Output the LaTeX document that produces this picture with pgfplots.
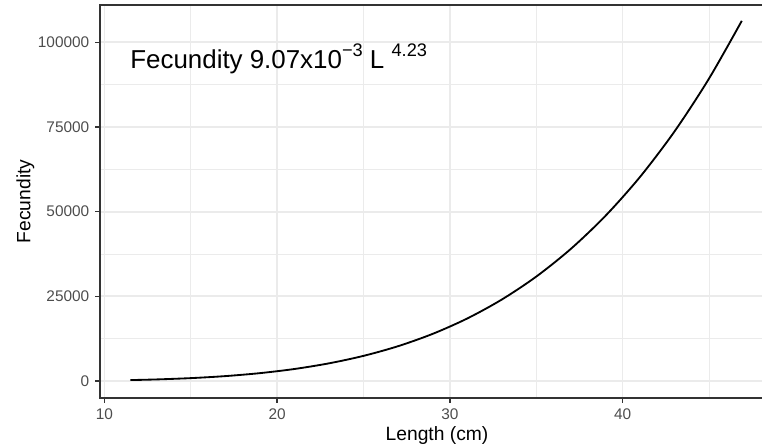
\documentclass[border=0pt]{standalone}
\usepackage{fontspec}
\setmainfont{Liberation Sans}
\usepackage{pgfplots}
\pgfplotsset{compat=1.18}
\definecolor{gray20}{HTML}{333333}
\definecolor{gray30}{HTML}{4D4D4D}
\definecolor{grid92}{HTML}{EBEBEB}
\begin{document}
\begin{tikzpicture}
\begin{axis}[
  scale only axis,
  width=378.1pt, height=224.4pt,
  xmin=9.757, xmax=48.07,
  ymin=-4931, ymax=111012,
  axis line style={draw=none},
  xtick={10,20,30,40},
  xticklabels={10,20,30,40},
  ytick={0,25000,50000,75000,100000},
  yticklabels={0,25000,50000,75000,100000},
  minor xtick={15,25,35,45},
  minor ytick={12500,37500,62500,87500},
  tick align=outside,
  xtick pos=bottom, ytick pos=left,
  major tick length=2.75pt,
  minor tick length=0pt,
  major tick style={gray20, line width=0.9pt},
  minor tick style={draw=none},
  grid=both,
  major grid style={grid92, line width=1.0pt},
  minor grid style={grid92, line width=0.5pt},
  /pgf/number format/assume math mode=true,
  tick label style={font=\fontsize{8.8}{10}\selectfont, text=gray30},
  clip=false,
]
\addplot[black, line width=1.05pt, smooth] coordinates {
(11.5,278.2) (13,467.3) (15,856.0) (17,1453.5) (19,2326.7) (21,3552.9)
(23,5220.5) (25,7428.4) (27,10286.7) (29,13917.2) (31,18452.4) (33,24039)
(35,30833) (37,39003) (39,48731) (41,60211) (43,73651) (45,89268) (46.9,106334)
};
\end{axis}
\draw[gray20, line width=0.9pt] (current axis.south east) -- (current axis.south west) -- (current axis.north west) -- (current axis.north east);
\node[anchor=base, inner sep=0pt, font=\fontsize{11}{13}\selectfont] at ([xshift=192.4pt, yshift=-24.7pt]current axis.south west) {Length (cm)};
\node[anchor=base, rotate=90, inner sep=0pt, font=\fontsize{11}{13}\selectfont] at ([xshift=-39.9pt]current axis.west) {Fecundity};
\node[anchor=base west, inner sep=0pt, font=\fontsize{14.8}{16}\selectfont] at ([xshift=17.0pt, yshift=-36.3pt]current axis.north west) {Fecundity 9.07x10\raisebox{7.0pt}{\fontsize{10.4}{11}\selectfont −3} L \raisebox{7.0pt}{\fontsize{10.4}{11}\selectfont 4.23}};
\pgfresetboundingbox
\path ([xshift=-57.3pt,yshift=-27.0pt]current axis.south west) rectangle ([yshift=2.86pt]current axis.north east);
\end{tikzpicture}
\end{document}
